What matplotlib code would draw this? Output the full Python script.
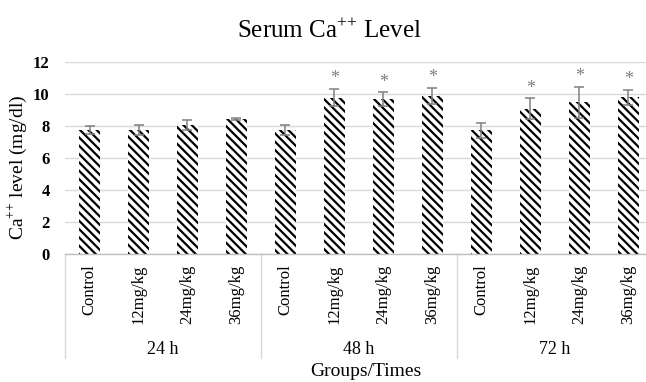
import numpy as np
import matplotlib
matplotlib.use("Agg")
import matplotlib.pyplot as plt
from matplotlib.transforms import blended_transform_factory

plt.rcParams["font.family"] = ["Liberation Serif", "DejaVu Serif"]
plt.rcParams["mathtext.fontset"] = "custom"
plt.rcParams["mathtext.rm"] = "Liberation Serif"
plt.rcParams["hatch.linewidth"] = 1.6

# ==========================
# DATA
# ==========================
groups = ["24 h", "48 h", "72 h"]
doses = ["Control", "12mg/kg", "24mg/kg", "36mg/kg"]

means = [7.75, 7.75, 8.08, 8.43,
         7.75, 9.78, 9.68, 9.90,
         7.72, 9.08, 9.48, 9.80]
errors = [0.28, 0.30, 0.30, 0.06,
          0.33, 0.55, 0.44, 0.50,
          0.44, 0.67, 0.98, 0.48]
significant = [False, False, False, False,
               False, True, True, True,
               False, True, True, True]

yticks = [0, 2, 4, 6, 8, 10, 12]

# ==========================
# PLOT
# ==========================
fig = plt.figure(figsize=(6.46, 3.82), dpi=100)
ax = fig.add_axes([65 / 646, 128 / 382, 588 / 646, 192 / 382])

x = np.arange(len(means))
labels = doses * len(groups)

ax.bar(x, means, width=0.41, color="white", edgecolor="black",
       hatch="\\\\\\\\", linewidth=0, zorder=2)
ax.errorbar(x, means, yerr=errors, fmt="none", ecolor="#808080",
            elinewidth=1.1, capsize=3.5, capthick=1.1, zorder=3)

for xi, m, e, s in zip(x, means, errors, significant):
    if s:
        ax.text(xi, m + e + 0.62, "*", ha="center", va="center",
                fontsize=13, color="#7f7f7f", zorder=4)

ax.set_xlim(-0.5, 11.5)
ax.set_ylim(0, 12)
ax.set_yticks(yticks)
ax.set_yticklabels([str(t) for t in yticks], fontsize=12, fontweight="bold")
ax.tick_params(axis="y", length=0, pad=11)
ax.tick_params(axis="x", length=0, labelbottom=False)
ax.grid(axis="y", color="#d9d9d9", linewidth=1, zorder=0)
ax.set_axisbelow(True)
for side in ["top", "right", "left"]:
    ax.spines[side].set_visible(False)
ax.spines["bottom"].set_color("#bfbfbf")
ax.spines["bottom"].set_linewidth(1)

trans = blended_transform_factory(ax.transData, ax.transAxes)

# category labels
for xi, lab in zip(x, labels):
    ax.text(xi, -0.055, lab, rotation=90, ha="center", va="top",
            fontsize=12, transform=trans)

# group labels and separators
for gi, g in enumerate(groups):
    ax.text(gi * 4 + 1.5, -0.495, g, ha="center", va="center",
            fontsize=13, transform=trans)
for sep in [-0.5, 3.5, 7.5, 11.5]:
    ax.plot([sep, sep], [0, -0.54], color="#d9d9d9", linewidth=1,
            transform=trans, clip_on=False)

fig.text(366 / 646, 1 - 372 / 382, "Groups/Times", ha="center",
         va="center", fontsize=14)

ax.set_ylabel(r"Ca$^{{+}{+}}$ level (mg/dl)", fontsize=14)
ax.yaxis.set_label_coords(-(65 - 29) / 588, 0.45)

fig.text(329 / 646, 1 - 31 / 382, r"Serum Ca$^{{+}{+}}$ Level", ha="center",
         va="center", fontsize=18)

fig.savefig("out.png", dpi=100)
